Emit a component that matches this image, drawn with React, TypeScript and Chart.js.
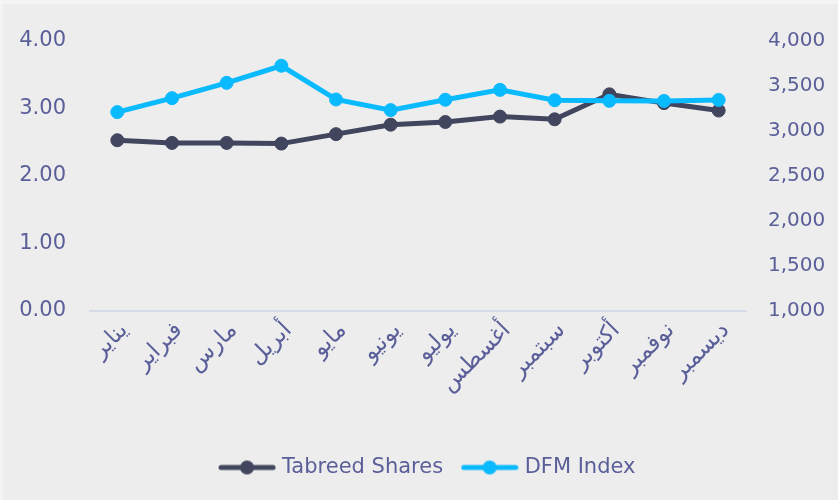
import React, { useEffect, useRef } from 'react';
import { Chart, registerables } from 'chart.js';

Chart.register(...registerables);

const months = ['يناير', 'فبراير', 'مارس', 'أبريل', 'مايو', 'يونيو', 'يوليو', 'أغسطس', 'سبتمبر', 'أكتوبر', 'نوفمبر', 'ديسمبر'];
const tabreedShares = [2.53, 2.49, 2.49, 2.48, 2.62, 2.76, 2.8, 2.88, 2.84, 3.21, 3.08, 2.97];
const dfmIndex = [3210, 3365, 3535, 3725, 3350, 3232, 3347, 3457, 3342, 3335, 3334, 3345];
const seriesNames = ['Tabreed Shares', 'DFM Index'];
const leftAxis = { min: 0, max: 4, step: 1 };
const rightAxis = { min: 1000, max: 4000, step: 500 };

const TEXT = '#5A5F99';
const NAVY = '#41455E';
const CYAN = '#0ABAFF';
const FONT = "'DejaVu Sans', Verdana, sans-serif";

function makeMarker(color: string) {
  const c = document.createElement('canvas');
  c.width = 58;
  c.height = 16;
  const ctx = c.getContext('2d')!;
  ctx.strokeStyle = color;
  ctx.lineWidth = 5;
  ctx.lineCap = 'round';
  ctx.beginPath();
  ctx.moveTo(3, 8);
  ctx.lineTo(55, 8);
  ctx.stroke();
  ctx.fillStyle = color;
  ctx.beginPath();
  ctx.arc(29, 8, 7, 0, Math.PI * 2);
  ctx.fill();
  return c;
}

const bgPlugin = {
  id: 'bg',
  beforeDraw(chart: any) {
    const { ctx, width, height } = chart;
    ctx.save();
    ctx.fillStyle = '#F4F4F4';
    ctx.fillRect(0, 0, width, height);
    ctx.fillStyle = '#EDEDED';
    ctx.fillRect(3, 4, width - 3, height - 4);
    ctx.restore();
  },
};

export default function App() {
  const ref = useRef<HTMLCanvasElement>(null);

  useEffect(() => {
    if (!ref.current) return;
    const markers = [makeMarker(NAVY), makeMarker(CYAN)];
    const chart = new Chart(ref.current, {
      type: 'line',
      data: {
        labels: months,
        datasets: [
          {
            label: seriesNames[0],
            data: tabreedShares,
            yAxisID: 'y',
            borderColor: NAVY,
            backgroundColor: NAVY,
            pointBackgroundColor: NAVY,
            pointBorderColor: NAVY,
            borderWidth: 5,
            pointRadius: 6.5,
            pointBorderWidth: 1,
            tension: 0,
            order: 1,
          },
          {
            label: seriesNames[1],
            data: dfmIndex,
            yAxisID: 'y1',
            borderColor: CYAN,
            backgroundColor: CYAN,
            pointBackgroundColor: CYAN,
            pointBorderColor: CYAN,
            borderWidth: 5,
            pointRadius: 6.5,
            pointBorderWidth: 1,
            tension: 0,
            order: 0,
          },
        ],
      },
      options: {
        animation: false,
        responsive: false,
        layout: { padding: { left: 20, right: 0, top: 41, bottom: 12 } },
        plugins: {
          tooltip: { enabled: false },
          legend: {
            position: 'bottom',
            labels: {
              color: TEXT,
              font: { family: FONT, size: 21 },
              usePointStyle: true,
              pointStyleWidth: 49,
              padding: 22,
              generateLabels: (ch: any) =>
                ch.data.datasets.map((ds: any, i: number) => ({
                  text: ds.label,
                  fillStyle: ds.borderColor,
                  strokeStyle: ds.borderColor,
                  lineWidth: 0,
                  pointStyle: markers[i],
                  hidden: !ch.isDatasetVisible(i),
                  datasetIndex: i,
                  fontColor: TEXT,
                })),
            },
          },
        },
        scales: {
          x: {
            offset: true,
            grid: { display: false, drawTicks: false, offset: true },
            border: { display: true, color: '#D6DBE7', width: 2 },
            ticks: {
              color: TEXT,
              font: { family: FONT, size: 23 },
              minRotation: 45,
              maxRotation: 45,
              padding: 6,
              labelOffset: 7,
              autoSkip: false,
            },
            afterFit: (s: any) => {
              s.height = 124;
            },
          },
          y: {
            position: 'left',
            min: leftAxis.min,
            max: leftAxis.max,
            grid: { display: false, drawTicks: false },
            border: { display: false },
            ticks: {
              stepSize: leftAxis.step,
              color: TEXT,
              font: { family: FONT, size: 21 },
              padding: 24,
              callback: (v: any) => Number(v).toFixed(2),
            },
            afterFit: (s: any) => {
              s.width = 70;
            },
          },
          y1: {
            position: 'right',
            min: rightAxis.min,
            max: rightAxis.max,
            grid: { display: false, drawTicks: false },
            border: { display: false },
            ticks: {
              stepSize: rightAxis.step,
              color: TEXT,
              font: { family: FONT, size: 20 },
              padding: 22,
              callback: (v: any) => Number(v).toLocaleString('en-US'),
            },
            afterFit: (s: any) => {
              s.width = 92;
            },
          },
        },
      },
      plugins: [bgPlugin],
    });
    return () => chart.destroy();
  }, []);

  return (
    <div style={{ position: 'fixed', left: 0, top: 0, width: 838, height: 500, background: '#EDEDED' }}>
      <canvas ref={ref} width={838} height={500} style={{ display: 'block', width: 838, height: 500 }} />
    </div>
  );
}
